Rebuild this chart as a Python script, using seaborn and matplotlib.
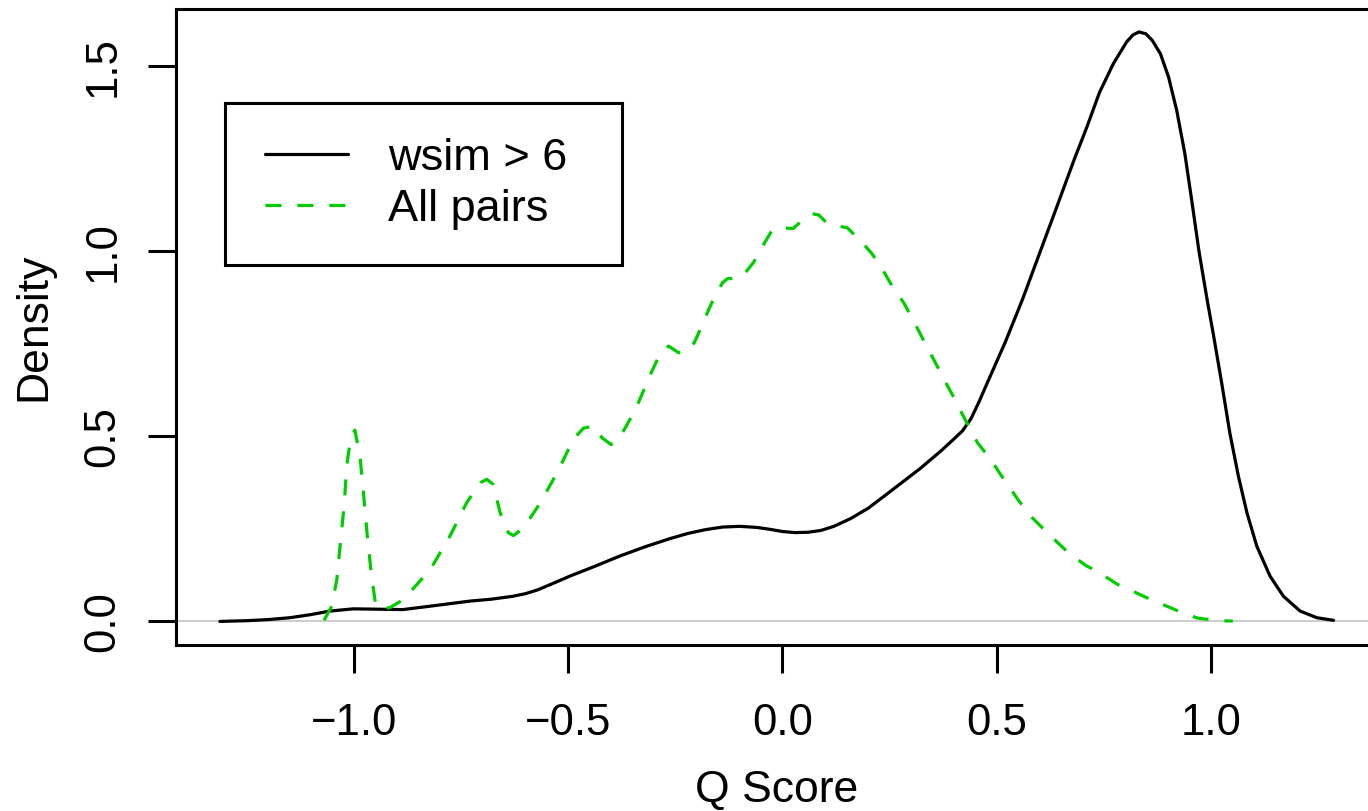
import numpy as np
import pandas as pd
import matplotlib
matplotlib.use("Agg")
import matplotlib.pyplot as plt
from matplotlib.patches import Rectangle
from matplotlib.lines import Line2D
import seaborn as sns

# ---- data (density curves) ----
wsim_x = [-1.313, -1.25, -1.20, -1.15, -1.103, -1.056, -1.002, -0.94, -0.886, -0.81,
          -0.729, -0.68, -0.629, -0.60, -0.572, -0.535, -0.495, -0.44, -0.379, -0.32,
          -0.262, -0.22, -0.18, -0.14, -0.10, -0.06, -0.03, 0.0, 0.03, 0.06,
          0.09, 0.12, 0.159, 0.20, 0.24, 0.276, 0.32, 0.369, 0.40, 0.42,
          0.44, 0.46, 0.478, 0.52, 0.56, 0.60, 0.640, 0.681, 0.710, 0.74, 0.772,
          0.803, 0.818, 0.832, 0.848, 0.863, 0.882, 0.901, 0.920, 0.939, 0.955,
          0.972, 0.991, 1.005, 1.025, 1.044, 1.064, 1.084, 1.107, 1.138, 1.169,
          1.208, 1.247, 1.286]
wsim_y = [0.000, 0.002, 0.005, 0.010, 0.018, 0.028, 0.034, 0.033, 0.032, 0.043,
          0.055, 0.060, 0.068, 0.075, 0.085, 0.103, 0.123, 0.148, 0.177, 0.202,
          0.224, 0.238, 0.248, 0.255, 0.257, 0.254, 0.249, 0.243, 0.240, 0.241,
          0.246, 0.257, 0.278, 0.306, 0.341, 0.373, 0.412, 0.460, 0.493, 0.515,
          0.548, 0.597, 0.645, 0.755, 0.870, 0.995, 1.120, 1.249, 1.335, 1.430, 1.507,
          1.566, 1.585, 1.593, 1.588, 1.570, 1.534, 1.471, 1.381, 1.264, 1.138,
          1.000, 0.869, 0.779, 0.644, 0.509, 0.392, 0.293, 0.203, 0.122, 0.068,
          0.028, 0.010, 0.003]

all_x = [-1.070, -1.052, -1.040, -1.031, -1.023, -1.017, -1.008, -0.998, -0.986, -0.978,
         -0.969, -0.959, -0.950, -0.939, -0.915, -0.885, -0.822, -0.776, -0.737, -0.705,
         -0.690, -0.675, -0.659, -0.640, -0.628, -0.604, -0.565, -0.526, -0.488, -0.465,
         -0.441, -0.421, -0.400, -0.386, -0.367, -0.343, -0.308, -0.285, -0.266, -0.242,
         -0.222, -0.206, -0.192, -0.172, -0.158, -0.140, -0.129, -0.100, -0.085, -0.067,
         -0.050, -0.024, -0.010, 0.003, 0.025, 0.048, 0.069, 0.085, 0.105, 0.120,
         0.151, 0.186, 0.210, 0.237, 0.256, 0.283, 0.299, 0.322, 0.338, 0.361,
         0.377, 0.400, 0.416, 0.455, 0.486, 0.506, 0.533, 0.552, 0.583, 0.609,
         0.642, 0.669, 0.708, 0.739, 0.782, 0.813, 0.856, 0.891, 0.934, 0.969,
         1.016, 1.051]
all_y = [0.003, 0.041, 0.114, 0.222, 0.312, 0.420, 0.495, 0.517, 0.447, 0.348,
         0.231, 0.122, 0.050, 0.032, 0.038, 0.059, 0.140, 0.231, 0.321, 0.375,
         0.384, 0.370, 0.294, 0.240, 0.232, 0.253, 0.321, 0.402, 0.492, 0.522,
         0.528, 0.496, 0.478, 0.487, 0.523, 0.573, 0.668, 0.725, 0.744, 0.726,
         0.730, 0.753, 0.789, 0.843, 0.879, 0.915, 0.926, 0.928, 0.945, 0.971,
         1.007, 1.058, 1.064, 1.063, 1.062, 1.086, 1.102, 1.098, 1.075, 1.070,
         1.064, 1.024, 0.992, 0.944, 0.906, 0.861, 0.827, 0.776, 0.740, 0.690,
         0.654, 0.605, 0.568, 0.483, 0.438, 0.402, 0.357, 0.325, 0.280, 0.250,
         0.213, 0.184, 0.151, 0.132, 0.100, 0.084, 0.061, 0.044, 0.023, 0.009,
         0.002, 0.001]

series_names = ["wsim > 6", "All pairs"]
x_ticks = [-1.0, -0.5, 0.0, 0.5, 1.0]
y_ticks = [0.0, 0.5, 1.0, 1.5]

df = pd.concat([
    pd.DataFrame({"x": wsim_x, "y": wsim_y, "series": series_names[0]}),
    pd.DataFrame({"x": all_x, "y": all_y, "series": series_names[1]}),
], ignore_index=True)

sns.set_style("white")
plt.rcParams["font.family"] = ["Liberation Sans", "DejaVu Sans"]
plt.rcParams["text.color"] = "black"
plt.rcParams["axes.labelcolor"] = "black"
plt.rcParams["xtick.color"] = "black"
plt.rcParams["ytick.color"] = "black"

W, H = 1368, 811
fig = plt.figure(figsize=(W / 100, H / 100), dpi=100)
left_px, right_px, top_px, bottom_px = 176, 1377, 9, 645
ax = fig.add_axes([left_px / W, (H - bottom_px) / H,
                   (right_px - left_px) / W, (bottom_px - top_px) / H])

palette = {series_names[0]: "black", series_names[1]: "#00CD00"}
dashes = {series_names[0]: "", series_names[1]: (5, 5)}

ax.axhline(0, color="#BEBEBE", lw=1.1, zorder=1)
sns.lineplot(data=df, x="x", y="y", hue="series", style="series",
             palette=palette, dashes=dashes, estimator=None, sort=False,
             units="series", linewidth=2.3, legend=False, ax=ax, zorder=3)

ax.set_xlim(-1.4154, 1.3874)
ax.set_ylim(-0.0637, 1.655)
ax.set_xticks(x_ticks)
ax.set_xticklabels([f"{v:.1f}".replace("-", "\u2212") for v in x_ticks])
ax.set_yticks(y_ticks)
ax.set_yticklabels([f"{v:.1f}" for v in y_ticks], rotation=90, va="center")

for s in ax.spines.values():
    s.set_color("black")
    s.set_linewidth(2.2)
    s.set_visible(True)

ax.tick_params(axis="both", direction="out", length=20, width=2.2,
               color="black", labelsize=31.5, labelcolor="black")
ax.tick_params(axis="x", pad=22)
ax.tick_params(axis="y", pad=18)
ax.tick_params(left=True, bottom=True)

ax.set_xlabel("Q Score", fontsize=32, va="center", color="black")
ax.set_ylabel("Density", fontsize=32, va="center", color="black")
ax.xaxis.set_label_coords(0.5, (bottom_px - 790) / (bottom_px - top_px))
ax.yaxis.set_label_coords((34 - left_px) / (right_px - left_px), 0.5)

# legend box (R style square frame)
ax_w = right_px - left_px
ax_h = bottom_px - top_px
bx0, bx1, by0, by1 = 225, 622, 103, 265
ax.add_patch(Rectangle(((bx0 - left_px) / ax_w, (bottom_px - by1) / ax_h),
                       (bx1 - bx0) / ax_w, (by1 - by0) / ax_h,
                       transform=ax.transAxes, fill=False, ec="black", lw=2.2,
                       zorder=5))
handles = [Line2D([], [], color="black", lw=2.3),
           Line2D([], [], color="#00CD00", lw=2.3, dashes=(5, 5))]
leg = ax.legend(handles, series_names, loc="center left",
                bbox_to_anchor=((265 - left_px) / ax_w, (bottom_px - 184) / ax_h),
                frameon=False, fontsize=32.5, borderpad=0, borderaxespad=0,
                handlelength=1.84, handletextpad=0.89, labelspacing=0.215)
for t in leg.get_texts():
    t.set_color("black")

fig.savefig("out.png", dpi=100)
